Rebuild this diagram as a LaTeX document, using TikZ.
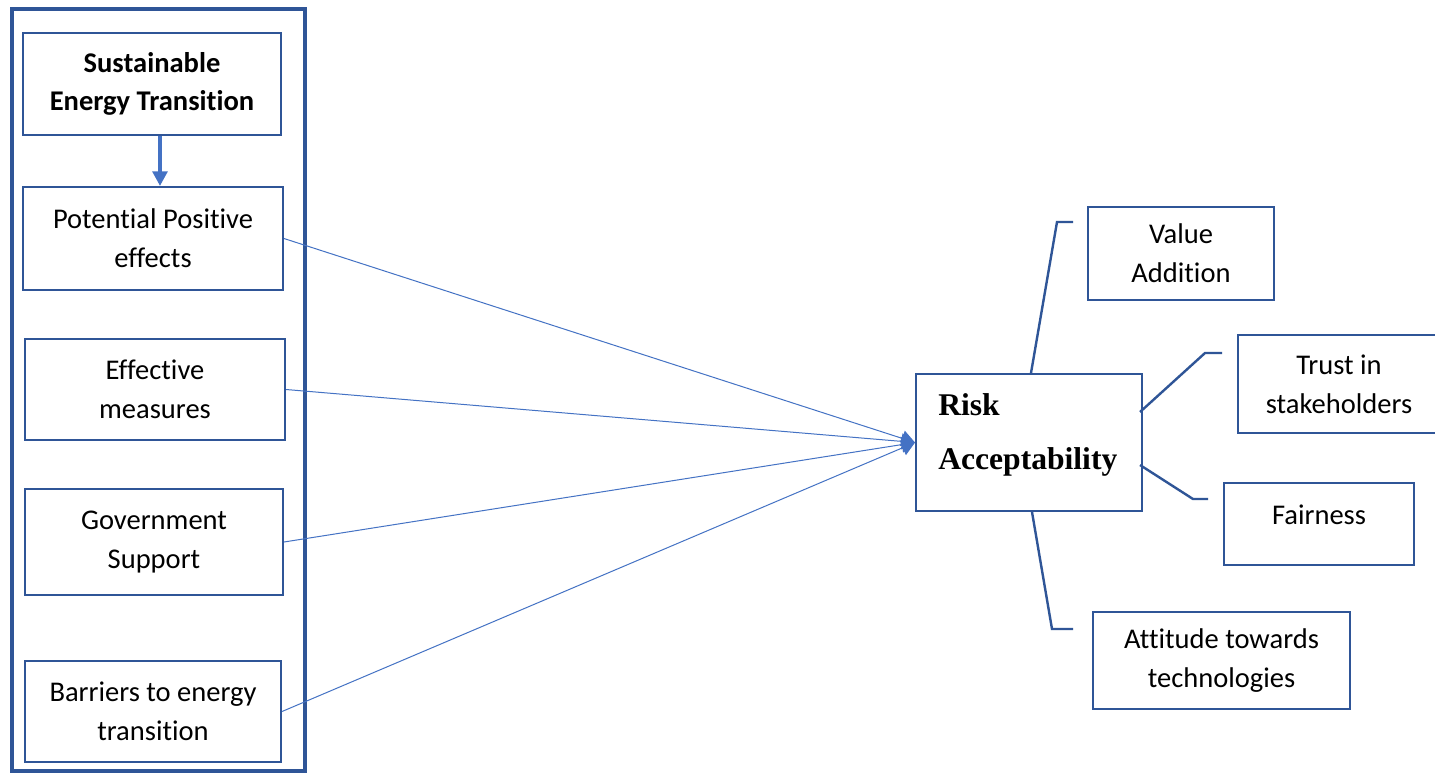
\documentclass[tikz,border=0pt]{standalone}
\usepackage{fontspec}
\setmainfont[Ligatures=NoCommon]{Carlito}
\newfontfamily\serifrisk{Liberation Serif}
\usetikzlibrary{arrows.meta,calc}
\definecolor{boxblue}{HTML}{2F5597}
\definecolor{lineblue}{HTML}{4472C4}
\begin{document}
\begin{tikzpicture}[x=0.75pt,y=-0.75pt,
  box/.style={draw=boxblue, line width=1.5pt, inner sep=0pt, align=center, rectangle,
    font=\fontsize{21.4}{29}\selectfont},
  boldbox/.style={box, font=\fontsize{21.4}{29}\selectfont\bfseries},
  link/.style={draw=lineblue, line width=0.75pt, -{Triangle[length=10pt,width=12pt]}},
  spoke/.style={draw=boxblue, line width=1.8pt},
  plain/.style={inner sep=0pt, align=center, font=\fontsize{21.4}{29}\selectfont},
]
\useasboundingbox (0,0) rectangle (1435,776);
\fill[white] (0,0) rectangle (1435,776);

% outer frame
\node[draw=boxblue, line width=3pt, inner sep=0pt, minimum width=219.75pt, minimum height=571.5pt] (frame) at (158.5,390) {};

% left boxes
\node[boldbox, minimum width=193.5pt, minimum height=76.5pt] (top) at (152,84) {Sustainable\\Energy Transition};
\node[box, minimum width=195pt, minimum height=77.25pt] (pp) at (153,238.5) {Potential Positive\\effects};
\node[box, minimum width=195pt, minimum height=75.75pt] (em) at (155,389.5) {Effective\\measures};
\node[box, minimum width=193.5pt, minimum height=79.5pt] (gs) at (154,542) {Government\\Support};
\node[box, minimum width=192pt, minimum height=75.75pt] (bt) at (153,711.5) {Barriers to energy\\transition};

% risk box
\node[box, minimum width=169.5pt, minimum height=102.75pt] (risk) at (1029,442.5) {};
\node[anchor=west, inner sep=0pt, align=left, font=\serifrisk\bfseries\fontsize{23.7}{41}\selectfont] (risktext) at (938,435) {Risk\\Acceptability};

% right boxes
\node[box, minimum width=139.5pt, minimum height=69.75pt] (va) at (1181,253) {Value\\Addition};
\node[box, minimum width=151.5pt, minimum height=73.5pt] (tr) at (1339,384) {Trust in\\stakeholders};
\node[box, minimum width=142.5pt, minimum height=61.5pt] (fa) at (1319,524) {};
\node[plain] (fatext) at (1319,515) {Fairness};
\node[box, minimum width=192.75pt, minimum height=72.75pt] (at) at (1221.5,660.5) {Attitude towards\\technologies};

% arrows
\draw[draw=lineblue, line width=3pt, -{Triangle[length=11pt,width=11pt]}]
  ($(top.south)+(8,0)$) -- ($(pp.north)+(7,0)$);
\draw[link] (pp.east) -- (risk.west);
\draw[link] (em.east) -- (risk.west);
\draw[link] (gs.east) -- (risk.west);
\draw[link] (bt.east) -- (risk.west);

% spokes
\coordinate (vaend) at (1073,222);
\coordinate (trend) at (1222,353);
\coordinate (faend) at (1208,499);
\coordinate (atend) at (1073,629);
\draw[spoke] ($(risk.north)+(2,0)$) -- (1057,222) -- (vaend);
\draw[spoke] (1140,412) -- (1205,353) -- (trend);
\draw[spoke] (1140,465) -- (1193,499) -- (faend);
\draw[spoke] ($(risk.south)+(3,0)$) -- (1052,629) -- (atend);
\end{tikzpicture}
\end{document}
